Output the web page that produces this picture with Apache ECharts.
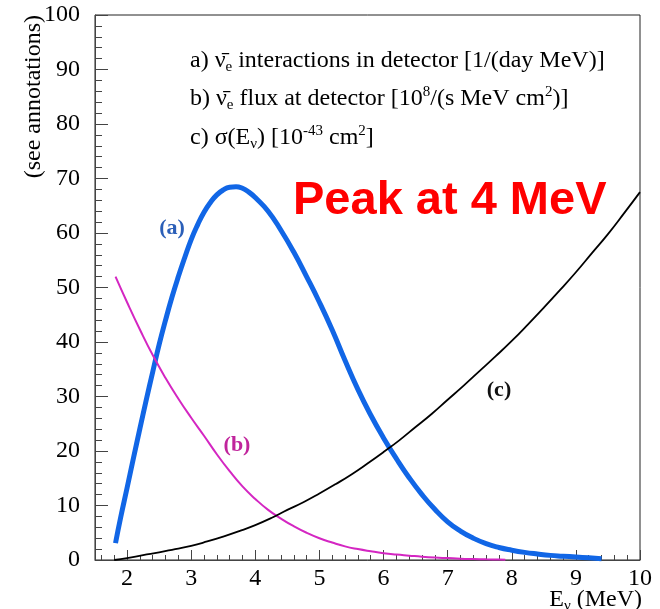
<!DOCTYPE html>
<html>
<head>
<meta charset="utf-8">
<script src="https://cdn.jsdelivr.net/npm/echarts@6/dist/echarts.min.js"></script>
<style>html,body{margin:0;padding:0;background:#fff;}#chart{width:660px;height:609px;}</style>
</head>
<body>
<div id="chart"></div>
<script>
// (a) interactions in detector
const energyA = [1.82,1.9,2.0,2.1,2.2,2.3,2.4,2.5,2.6,2.7,2.8,2.9,3.0,3.1,3.2,3.3,3.4,3.5,3.6,3.7,3.8,3.9,4.0,4.2,4.4,4.6,4.8,5.0,5.2,5.4,5.6,5.8,6.0,6.2,6.4,6.6,6.8,7.0,7.2,7.4,7.6,7.8,8.0,8.2,8.4,8.6,8.8,9.0,9.2,9.4];
const valuesA = [3.1,7.8,13.2,18.7,24.1,29.4,34.5,39.5,44,48.2,52,55.5,58.8,61.5,63.8,65.6,67,67.9,68.4,68.5,68.2,67.5,66.5,64,60.5,56.5,52,47.3,42.2,36.6,31.3,26.6,22.4,18.6,15.1,12,9.3,7.0,5.3,4.0,3.0,2.3,1.8,1.4,1.1,0.85,0.7,0.55,0.4,0.25];
// (b) flux at detector
const energyB = [1.82,2.0,2.2,2.4,2.6,2.8,3.0,3.2,3.4,3.6,3.8,4.0,4.2,4.4,4.6,4.8,5.0,5.2,5.4,5.6,5.8,6.0,6.2,6.4,6.6,6.8,7.0,7.2,7.4,7.6,7.8,7.9];
const valuesB = [52,47.3,42.3,37.6,33.4,29.6,26.1,22.8,19.4,16.3,13.5,11.2,9.2,7.6,6.2,5.0,4.0,3.2,2.5,2.0,1.6,1.25,1.0,0.8,0.6,0.45,0.35,0.25,0.18,0.12,0.08,0.05];
// (c) cross section
const energyC = [1.8,2.0,2.25,2.5,2.75,3.0,3.25,3.5,3.75,4.0,4.25,4.5,4.75,5.0,5.25,5.5,5.75,6.0,6.25,6.5,6.75,7.0,7.25,7.5,7.75,8.0,8.25,8.5,8.75,9.0,9.25,9.5,9.75,10.0];
const valuesC = [0,0.35,0.9,1.4,2.0,2.6,3.4,4.3,5.3,6.4,7.7,9.2,10.6,12.2,13.9,15.7,17.7,19.8,22.0,24.4,26.8,29.4,32.0,34.7,37.4,40.2,43.2,46.3,49.5,52.8,56.3,59.8,63.6,67.5];

const yTicks = [0,10,20,30,40,50,60,70,80,90,100];
const xTickLabels = [2,3,4,5,6,7,8,9,10];

const annotationLines = [
  '{t|a) ν̄}{sub|e}{t| interactions in detector [1/(day MeV)]}',
  '{t|b) ν̄}{sub|e}{t| flux at detector [10}{sup|8}{t|/(s MeV cm}{sup|2}{t|)]}',
  '{t|c) σ(E}{sub|ν}{t|) [10}{sup|-43}{t| cm}{sup|2}{t|]}'
];

const pairs = (xs, ys) => xs.map((x, i) => [x, ys[i]]);
const serif = '"Liberation Serif", "Times New Roman", serif';
const rich = {
  t: {fontFamily: serif, fontSize: 24, lineHeight: 30, color: '#000'},
  sub: {fontFamily: serif, fontSize: 15, lineHeight: 15, padding: [13, 0, 0, 0], color: '#000'},
  sup: {fontFamily: serif, fontSize: 15, lineHeight: 15, padding: [0, 0, 13, 0], color: '#000'}
};

const chart = echarts.init(document.getElementById('chart'), null, {renderer: 'canvas'});
chart.setOption({
  animation: false,
  backgroundColor: '#fff',
  grid: {left: 95, right: 20, top: 15, bottom: 49, show: true, borderColor: '#222', borderWidth: 1, backgroundColor: 'transparent'},
  xAxis: [
    {
      type: 'value', min: 1.5, max: 10, minInterval: 1, maxInterval: 1, position: 'bottom',
      axisLine: {show: true, lineStyle: {color: '#444', width: 1}},
      axisTick: {show: true, inside: true, length: 10, lineStyle: {color: '#444'}},
      axisLabel: {
        show: true, margin: 7, fontFamily: serif, fontSize: 24, color: '#000',
        formatter: v => (xTickLabels.indexOf(v) >= 0 ? String(v) : '')
      },
      splitLine: {show: false}
    },
    {
      type: 'value', min: 1.5, max: 10, minInterval: 0.2, maxInterval: 0.2, position: 'bottom',
      axisLine: {show: false},
      axisTick: {show: true, inside: true, length: 5, lineStyle: {color: '#444'}},
      axisLabel: {show: false},
      splitLine: {show: false}
    }
  ],
  yAxis: {
    type: 'value', min: yTicks[0], max: yTicks[yTicks.length - 1], interval: 10,
    axisLine: {show: true, lineStyle: {color: '#444', width: 1}},
    axisTick: {show: true, inside: true, length: 13, lineStyle: {color: '#444'}},
    minorTick: {show: true, splitNumber: 5, length: 7, lineStyle: {color: '#444'}},
    axisLabel: {margin: 15, fontFamily: serif, fontSize: 24, color: '#000'},
    splitLine: {show: false}
  },
  series: [
    {type: 'line', name: 'a', data: pairs(energyA, valuesA), smooth: 0.5, showSymbol: false, lineStyle: {color: '#1166e6', width: 5}, z: 2},
    {type: 'line', name: 'b', data: pairs(energyB, valuesB), smooth: 0.5, showSymbol: false, lineStyle: {color: '#d426c2', width: 2}, z: 3},
    {type: 'line', name: 'c', data: pairs(energyC, valuesC), smooth: 0.5, showSymbol: false, lineStyle: {color: '#000', width: 1.8}, z: 4}
  ],
  graphic: [
    {type: 'text', left: 190, top: 47, style: {text: annotationLines[0], rich: rich}},
    {type: 'text', left: 190, top: 85, style: {text: annotationLines[1], rich: rich}},
    {type: 'text', left: 190, top: 124, style: {text: annotationLines[2], rich: rich}},
    {type: 'text', x: 293, y: 201, style: {text: 'Peak at 4 MeV', fontFamily: '"Liberation Sans", Arial, sans-serif', fontWeight: 'bold', fontSize: 47, fill: '#ff0000', align: 'left', verticalAlign: 'middle'}},
    {type: 'text', x: 172, y: 228, style: {text: '(a)', fontFamily: serif, fontWeight: 'bold', fontSize: 22, fill: '#2b5fb8', align: 'center', verticalAlign: 'middle'}},
    {type: 'text', x: 237, y: 445, style: {text: '(b)', fontFamily: serif, fontWeight: 'bold', fontSize: 22, fill: '#c0249c', align: 'center', verticalAlign: 'middle'}},
    {type: 'text', x: 499, y: 390, style: {text: '(c)', fontFamily: serif, fontWeight: 'bold', fontSize: 22, fill: '#111', align: 'center', verticalAlign: 'middle'}},
    {type: 'text', x: 34, y: 15, rotation: Math.PI / 2, style: {text: '(see annotations)', fontFamily: serif, fontSize: 24, fill: '#000', align: 'right', verticalAlign: 'middle'}},
    {type: 'text', right: 18, top: 586, style: {text: '{t|E}{sub|ν}{t| (MeV)}', rich: rich}}
  ]
});
</script>
</body>
</html>
